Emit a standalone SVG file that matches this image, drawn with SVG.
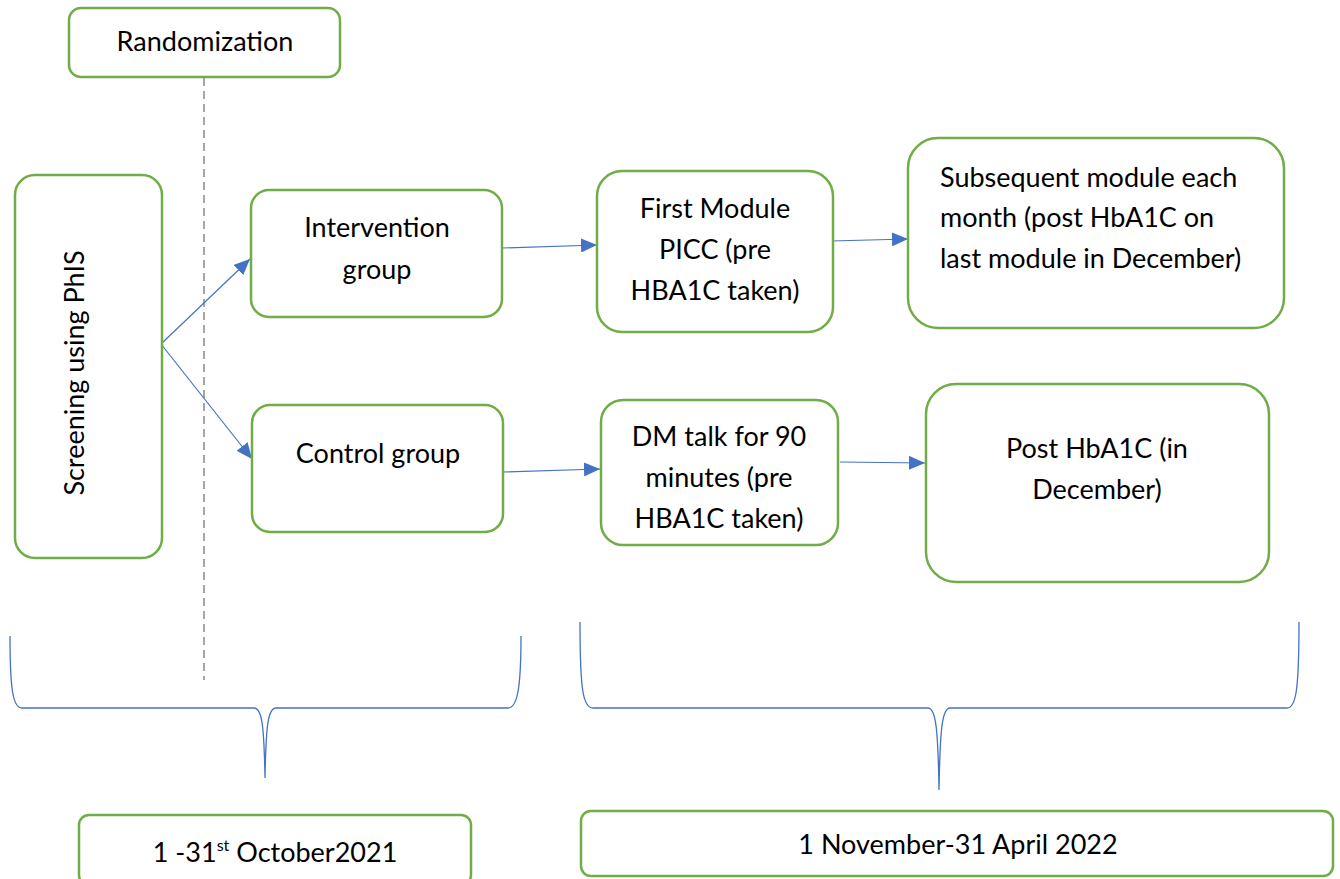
<svg xmlns="http://www.w3.org/2000/svg" width="1340" height="879" viewBox="0 0 1340 879">
<style>
.box{fill:#fff;stroke:#70AD47;stroke-width:2.5}
.t{font-family:Lato,"Liberation Sans",sans-serif;font-size:27px;fill:#000}
.c{text-anchor:middle}
.arr{stroke:#4472C4;stroke-width:1.2;fill:none;marker-end:url(#ah)}
.brace{stroke:#4472C4;stroke-width:1.3;fill:none}
</style>
<defs>
<marker id="ah" markerUnits="userSpaceOnUse" markerWidth="18" markerHeight="14" refX="16" refY="7" orient="auto">
<path d="M0,0 L16,7 L0,14 Z" fill="#4472C4"/>
</marker>
</defs>
<rect width="1340" height="879" fill="#fff"/>
<line x1="204" y1="78" x2="204" y2="680" stroke="#A5A5A5" stroke-width="2" stroke-dasharray="8,5"/>
<g id="connectors">
<line class="arr" x1="161" y1="344" x2="250" y2="259"/>
<line class="arr" x1="161" y1="344" x2="252" y2="459"/>
<line class="arr" x1="502" y1="248" x2="597" y2="245"/>
<line class="arr" x1="503" y1="472" x2="600" y2="469"/>
<line class="arr" x1="831" y1="241" x2="908" y2="239"/>
<line class="arr" x1="840" y1="462" x2="925" y2="463"/>
<path class="brace" d="M10,636 C10,690 13,708 22,708 L254,708 C262,708 264,725 265,778 C266,725 268,708 276,708 L508,708 C517,708 521,690 521,636"/>
<path class="brace" d="M580,622 C580,690 583,708 593,708 L928,708 C936,708 938,730 939,790 C940,730 942,708 950,708 L1287,708 C1296,708 1299,690 1299,622"/>
</g>
<g id="randomization">
<rect class="box" x="69" y="8" width="271" height="69" rx="12"/>
<text class="t c" x="205" y="51">Randomization</text>
</g>
<g id="screening">
<rect class="box" x="15" y="175" width="147" height="383" rx="20"/>
<text class="t c" transform="translate(84,373) rotate(-90)">Screening using PhIS</text>
</g>
<g id="intervention">
<rect class="box" x="251" y="190" width="251" height="127" rx="18"/>
<text class="t c" x="377" y="237">Intervention</text>
<text class="t c" x="377" y="279">group</text>
</g>
<g id="control">
<rect class="box" x="252" y="405" width="251" height="127" rx="18"/>
<text class="t c" x="378" y="463">Control group</text>
</g>
<g id="firstmodule">
<rect class="box" x="597" y="171" width="236" height="161" rx="25"/>
<text class="t c" x="715" y="218">First Module</text>
<text class="t c" x="715" y="259">PICC (pre</text>
<text class="t c" x="715" y="300">HBA1C taken)</text>
</g>
<g id="subsequent">
<rect class="box" x="908" y="138" width="376" height="190" rx="30"/>
<text class="t" x="940" y="187">Subsequent module each</text>
<text class="t" x="940" y="227">month (post HbA1C on</text>
<text class="t" x="940" y="268">last module in December)</text>
</g>
<g id="dmtalk">
<rect class="box" x="601" y="400" width="237" height="145" rx="22"/>
<text class="t c" x="719" y="446">DM talk for 90</text>
<text class="t c" x="719" y="487">minutes (pre</text>
<text class="t c" x="719" y="528">HBA1C taken)</text>
</g>
<g id="posthba1c">
<rect class="box" x="926" y="384" width="343" height="198" rx="30"/>
<text class="t c" x="1097" y="458">Post HbA1C (in</text>
<text class="t c" x="1097" y="499">December)</text>
</g>
<g id="period1">
<rect class="box" x="79" y="815" width="392" height="70" rx="10"/>
<text class="t c" x="275" y="862">1 -31<tspan font-size="16" dy="-11">st</tspan><tspan dy="11"> October2021</tspan></text>
</g>
<g id="period2">
<rect class="box" x="581" y="811" width="752" height="65" rx="10"/>
<text class="t c" x="958" y="854">1 November-31 April 2022</text>
</g>
</svg>
